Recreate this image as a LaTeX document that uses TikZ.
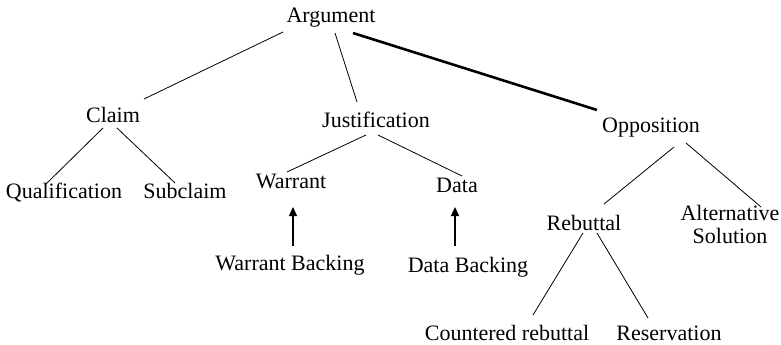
\documentclass[tikz,border=0pt]{standalone}
\usepackage{fontspec}
\setmainfont{Liberation Serif}
\usetikzlibrary{arrows.meta}
\tikzset{
  lbl/.style={inner sep=0pt, outer sep=0pt, font=\fontsize{22}{25}\selectfont},
  edge/.style={line width=0.8pt},
  strongedge/.style={line width=2.6pt},
  support/.style={line width=1.3pt, -{Triangle[length=9pt,width=8pt]}}
}
\newcommand{\off}[3]{([shift={(#1pt,#2pt)}]#3)}
\begin{document}
\begin{tikzpicture}[x=1pt,y=1pt]
  \useasboundingbox (0,0) rectangle (781,-345);

  % labels, placed on their baselines
  \node[lbl, anchor=base] (arg)  at (331,-23)  {Argument};
  \node[lbl, anchor=base] (claim) at (113,-122) {Claim};
  \node[lbl, anchor=base] (just) at (376,-127) {Justification};
  \node[lbl, anchor=base] (opp)  at (651,-132) {Opposition};
  \node[lbl, anchor=base] (qual) at (64,-198)  {Qualification};
  \node[lbl, anchor=base] (sub)  at (185,-198) {Subclaim};
  \node[lbl, anchor=base] (war)  at (291,-188) {Warrant};
  \node[lbl, anchor=base] (data) at (457,-192) {Data};
  \node[lbl, anchor=base] (wb)   at (290,-270) {Warrant Backing};
  \node[lbl, anchor=base] (db)   at (468,-272) {Data Backing};
  \node[lbl, anchor=base] (reb)  at (584,-230) {Rebuttal};
  \node[lbl, align=center, font=\fontsize{22}{23}\selectfont] (alt) at (730,-224) {Alternative\\Solution};
  \node[lbl, anchor=base] (ctr)  at (507,-340) {Countered rebuttal};
  \node[lbl, anchor=base] (res)  at (669,-340) {Reservation};

  % tree edges
  \draw[edge] \off{-48}{-9}{arg.base} -- \off{31}{23}{claim.base};
  \draw[edge] \off{4}{-10}{arg.base} -- \off{-19}{25}{just.base};
  \draw[strongedge] \off{22}{-10}{arg.base} -- \off{-54}{22}{opp.base};

  \draw[edge] \off{-10}{-6}{claim.base} -- \off{-19}{13}{qual.base};
  \draw[edge] \off{4}{-6}{claim.base} -- \off{-10}{15}{sub.base};

  \draw[edge] \off{-10}{-8}{just.base} -- \off{-4}{16}{war.base};
  \draw[edge] \off{2}{-8}{just.base} -- \off{5}{16}{data.base};

  \draw[edge] \off{23}{-15}{opp.base} -- \off{20}{26}{reb.base};
  \draw[edge] \off{35}{-11}{opp.base} -- \off{31}{17}{alt.center};

  \draw[edge] \off{-1}{-3}{reb.base} -- \off{26}{25}{ctr.base};
  \draw[edge] \off{13}{-3}{reb.base} -- \off{-21}{22}{res.base};

  % backing arrows
  \draw[support] \off{3}{24}{wb.base} -- \off{2}{-19}{war.base};
  \draw[support] \off{-13}{26}{db.base} -- \off{-2}{-15}{data.base};
\end{tikzpicture}
\end{document}
